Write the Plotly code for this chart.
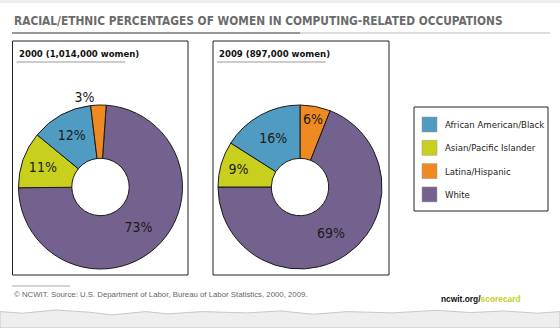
import plotly.graph_objects as go

# ---- data ----
title_text = "RACIAL/ETHNIC PERCENTAGES OF WOMEN IN COMPUTING-RELATED OCCUPATIONS"
categories = ["African American/Black", "Asian/Pacific Islander", "Latina/Hispanic", "White"]
colors = ["#4f9bc1", "#c9cf1d", "#ef8a22", "#74628e"]

# slice order (clockwise) as drawn in each panel
order_2000 = ["White", "Asian/Pacific Islander", "African American/Black", "Latina/Hispanic"]
values_2000 = [73, 11, 12, 3]
order_2009 = ["Latina/Hispanic", "White", "Asian/Pacific Islander", "African American/Black"]
values_2009 = [6, 69, 9, 16]
panel_titles = ["2000 (1,014,000 women)", "2009 (897,000 women)"]
source_text = "© NCWIT. Source: U.S. Department of Labor, Bureau of Labor Statistics, 2000, 2009."

W, H = 560, 328
def px(x): return x / W
def py(y): return 1 - y / H

cmap = dict(zip(categories, colors))
NARROW = "DejaVu Sans Condensed, Liberation Sans Narrow, sans-serif"
SANS = "Liberation Sans, Arial, sans-serif"

fig = go.Figure()

def add_pie(labels, values, rot, x0, x1, y0, y1, positions):
    fig.add_trace(go.Pie(
        labels=labels, values=values, sort=False, direction="clockwise",
        rotation=rot, hole=0.35,
        marker=dict(colors=[cmap[l] for l in labels], line=dict(color="#1a1a1a", width=1)),
        texttemplate="%{value}%", textposition=positions,
        insidetextorientation="horizontal",
        textfont=dict(family=NARROW, size=14, color="#1a1a1a"),
        outsidetextfont=dict(family=NARROW, size=14, color="#1a1a1a"),
        domain=dict(x=[px(x0), px(x1)], y=[py(y1), py(y0)]),
        showlegend=False, hoverinfo="label+value",
    ))

add_pie(order_2000, values_2000, 4, 18.5, 182.5, 105, 269, ["inside", "inside", "inside", "outside"])
add_pie(order_2009, values_2009, 0, 218, 382, 105, 269, ["inside"] * 4)

shapes = []
annotations = []

# title and its underline
annotations.append(dict(x=px(12), y=py(21), xref="paper", yref="paper", xanchor="left", yanchor="middle",
                        text="<b>" + title_text + "</b>", showarrow=False,
                        font=dict(family=NARROW, size=11.8, color="#6b6b6b")))
shapes.append(dict(type="line", xref="paper", yref="paper", x0=px(12), x1=px(300), y0=py(33), y1=py(33),
                   line=dict(color="#333", width=1.2)))
shapes.append(dict(type="line", xref="paper", yref="paper", x0=px(300), x1=px(550), y0=py(33), y1=py(33),
                   line=dict(color="#bbb", width=1)))

# panel boxes
for (bx0, bx1), t in zip([(12.5, 188), (213, 389)], panel_titles):
    shapes.append(dict(type="rect", xref="paper", yref="paper", x0=px(bx0), x1=px(bx1), y0=py(275), y1=py(41),
                       line=dict(color="#222", width=1)))
    annotations.append(dict(x=px(bx0 + 4), y=py(53), xref="paper", yref="paper", xanchor="left", yanchor="middle",
                            text="<b>" + t + "</b>", showarrow=False,
                            font=dict(family=NARROW, size=9.5, color="#111")))
    shapes.append(dict(type="line", xref="paper", yref="paper", x0=px(bx0 + 4), x1=px(bx0 + 113), y0=py(62), y1=py(62),
                       line=dict(color="#999", width=1)))

# legend box
shapes.append(dict(type="rect", xref="paper", yref="paper", x0=px(414), x1=px(548), y0=py(211), y1=py(107),
                   line=dict(color="#222", width=1)))
for i, (c, col) in enumerate(zip(categories, colors)):
    yc = 124.5 + i * 23.3
    shapes.append(dict(type="rect", xref="paper", yref="paper", x0=px(422), x1=px(437), y0=py(yc + 7.5), y1=py(yc - 7.5),
                       fillcolor=col, line=dict(color="#999", width=0.5)))
    annotations.append(dict(x=px(443), y=py(yc), xref="paper", yref="paper", xanchor="left", yanchor="middle",
                            text=c, showarrow=False, font=dict(family=NARROW, size=9.5, color="#222")))

# footer
shapes.append(dict(type="line", xref="paper", yref="paper", x0=px(12), x1=px(70), y0=py(286), y1=py(286),
                   line=dict(color="#aaa", width=1)))
annotations.append(dict(x=px(12), y=py(294), xref="paper", yref="paper", xanchor="left", yanchor="middle",
                        text=source_text, showarrow=False, font=dict(family=SANS, size=7.8, color="#666")))
annotations.append(dict(x=px(523), y=py(299), xref="paper", yref="paper", xanchor="right", yanchor="middle",
                        text="<b>ncwit.org/<span style='color:#c3d11c'>scorecard</span></b>", showarrow=False,
                        font=dict(family=SANS, size=8.4, color="#111")))

# torn paper edge at the bottom
edge = "M 0,0.05 L 0.04,0.045 L 0.1,0.055 L 0.16,0.048 L 0.2,0.04 L 0.26,0.05 L 0.3,0.043 L 0.36,0.05 " \
       "L 0.44,0.046 L 0.5,0.052 L 0.56,0.042 L 0.62,0.05 L 0.7,0.046 L 0.78,0.054 L 0.84,0.047 L 0.9,0.052 " \
       "L 0.96,0.045 L 1,0.05 L 1,0 L 0,0 Z"
shapes.append(dict(type="path", xref="paper", yref="paper", path=edge, fillcolor="#eeeeee",
                   line=dict(color="#c8c8c8", width=1)))
# top border shade
shapes.append(dict(type="rect", xref="paper", yref="paper", x0=0, x1=1, y0=py(3), y1=1,
                   fillcolor="#eeeeee", line=dict(width=0)))

fig.update_layout(
    width=W, height=H, margin=dict(l=0, r=0, t=0, b=0),
    paper_bgcolor="white", plot_bgcolor="white",
    shapes=shapes, annotations=annotations,
)

fig.write_html("out.html")
